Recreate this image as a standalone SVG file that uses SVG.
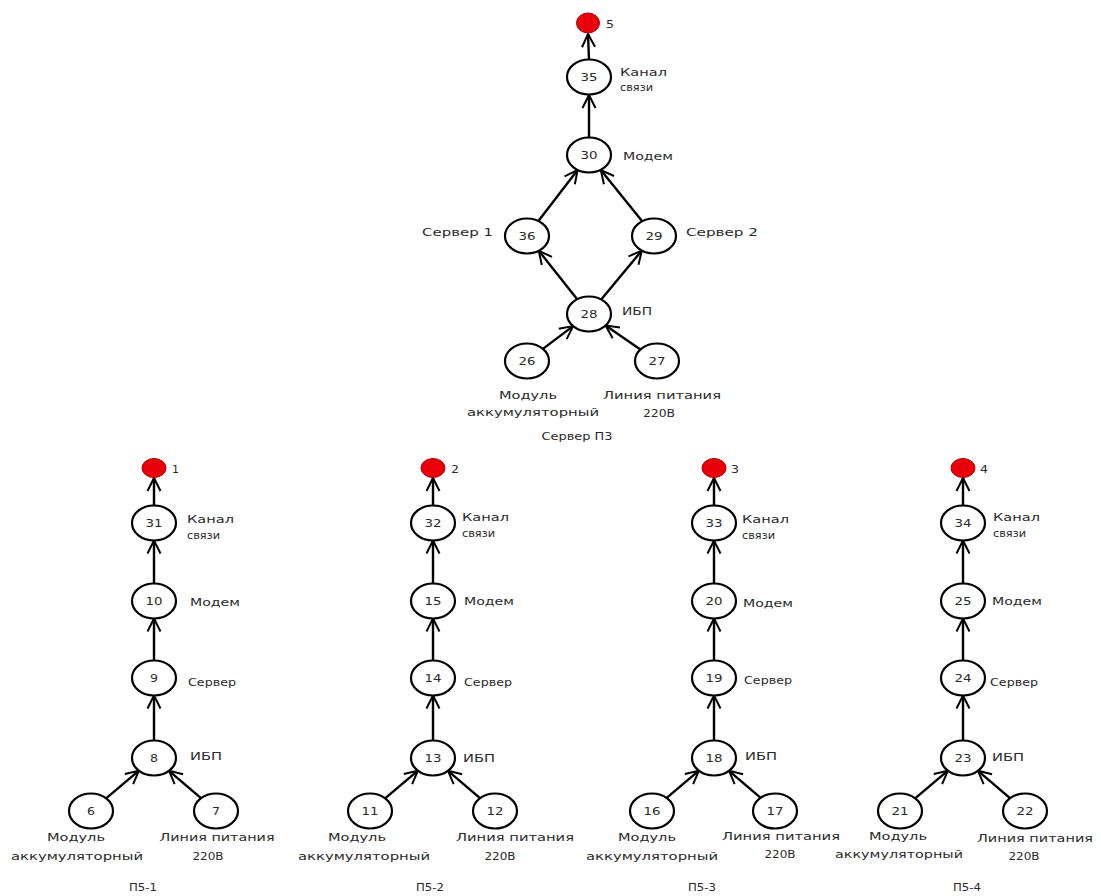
<svg xmlns="http://www.w3.org/2000/svg" width="1101" height="896" viewBox="0 0 1101 896">
<style>
text{font-family:"DejaVu Sans","Liberation Sans",sans-serif;font-size:11px;fill:#2a2a2a}
.n{text-anchor:middle}
.m{text-anchor:middle}
.node{fill:#fff;stroke:#000;stroke-width:2.2}
.root{fill:#e8000b;stroke:#b00000;stroke-width:1}
.edge{stroke:#000;stroke-width:2.4;fill:none;marker-end:url(#arr)}
</style>
<defs>
<marker id="arr" viewBox="0 0 16 16" refX="15" refY="8" markerWidth="16" markerHeight="16" markerUnits="userSpaceOnUse" orient="auto">
<path d="M2,1.5 L15,8 L2,14.5" fill="none" stroke="#000" stroke-width="2"/>
</marker>
</defs>
<rect width="1101" height="896" fill="#fff"/>
<g id="connectors">
<line class="edge" x1="589" y1="59.5" x2="588" y2="34"/>
<line class="edge" x1="589" y1="137.5" x2="589" y2="95"/>
<line class="edge" x1="538.4" y1="221.1" x2="577.6" y2="170"/>
<line class="edge" x1="642.2" y1="221.3" x2="600.8" y2="170"/>
<line class="edge" x1="577.2" y1="299.2" x2="538.8" y2="250.8"/>
<line class="edge" x1="601.2" y1="299.4" x2="641.8" y2="250.6"/>
<line class="edge" x1="542.9" y1="348.9" x2="573.1" y2="326.1"/>
<line class="edge" x1="640.4" y1="349.5" x2="605.6" y2="325.5"/>
<line class="edge" x1="154" y1="505.5" x2="154" y2="478"/>
<line class="edge" x1="154" y1="583.5" x2="154" y2="540.5"/>
<line class="edge" x1="154" y1="660.5" x2="154" y2="618.5"/>
<line class="edge" x1="154" y1="740.5" x2="154" y2="695.5"/>
<line class="edge" x1="106.1" y1="798.3" x2="138.9" y2="770.7"/>
<line class="edge" x1="201" y1="798.2" x2="169" y2="770.8"/>
<line class="edge" x1="433" y1="505.5" x2="433" y2="478"/>
<line class="edge" x1="433" y1="583.5" x2="433" y2="540.5"/>
<line class="edge" x1="433" y1="660.5" x2="433" y2="618.5"/>
<line class="edge" x1="433" y1="740.5" x2="433" y2="695.5"/>
<line class="edge" x1="385.1" y1="798.3" x2="417.9" y2="770.7"/>
<line class="edge" x1="480" y1="798.2" x2="448" y2="770.8"/>
<line class="edge" x1="714" y1="505.5" x2="714" y2="478"/>
<line class="edge" x1="714" y1="583.5" x2="714" y2="540.5"/>
<line class="edge" x1="714" y1="660.5" x2="714" y2="618.5"/>
<line class="edge" x1="714" y1="740.5" x2="714" y2="695.5"/>
<line class="edge" x1="666.1" y1="798.3" x2="698.9" y2="770.7"/>
<line class="edge" x1="761" y1="798.2" x2="729" y2="770.8"/>
<line class="edge" x1="963" y1="505.5" x2="963" y2="478"/>
<line class="edge" x1="963" y1="583.5" x2="963" y2="540.5"/>
<line class="edge" x1="963" y1="660.5" x2="963" y2="618.5"/>
<line class="edge" x1="963" y1="740.5" x2="963" y2="695.5"/>
<line class="edge" x1="915.1" y1="798.3" x2="947.9" y2="770.7"/>
<line class="edge" x1="1010" y1="798.2" x2="978" y2="770.8"/>
</g>
<!-- Top tree: Сервер П3 -->
<g id="n5"><ellipse class="root" cx="588" cy="23" rx="11.5" ry="10"/><text x="606" y="28" textLength="8" lengthAdjust="spacingAndGlyphs">5</text></g>
<g id="n35"><ellipse class="node" cx="589" cy="77" rx="22" ry="17.5"/><text class="n" x="589" y="81" textLength="17" lengthAdjust="spacingAndGlyphs">35</text><text x="620" y="76" textLength="47" lengthAdjust="spacingAndGlyphs">Канал</text><text x="620" y="91" textLength="33" lengthAdjust="spacingAndGlyphs">связи</text></g>
<g id="n30"><ellipse class="node" cx="589" cy="155" rx="22" ry="17.5"/><text class="n" x="589" y="159" textLength="17" lengthAdjust="spacingAndGlyphs">30</text><text x="623" y="160" textLength="50" lengthAdjust="spacingAndGlyphs">Модем</text></g>
<g id="n36"><ellipse class="node" cx="527" cy="236" rx="22" ry="17.5"/><text class="n" x="527" y="240" textLength="17" lengthAdjust="spacingAndGlyphs">36</text><text x="422" y="236" textLength="71" lengthAdjust="spacingAndGlyphs">Сервер 1</text></g>
<g id="n29"><ellipse class="node" cx="654" cy="236" rx="22" ry="17.5"/><text class="n" x="654" y="240" textLength="17" lengthAdjust="spacingAndGlyphs">29</text><text x="686" y="236" textLength="72" lengthAdjust="spacingAndGlyphs">Сервер 2</text></g>
<g id="n28"><ellipse class="node" cx="589" cy="314" rx="22" ry="17.5"/><text class="n" x="589" y="318" textLength="17" lengthAdjust="spacingAndGlyphs">28</text><text x="622" y="315" textLength="30" lengthAdjust="spacingAndGlyphs">ИБП</text></g>
<g id="n26"><ellipse class="node" cx="527" cy="361" rx="22" ry="17.5"/><text class="n" x="527" y="365" textLength="17" lengthAdjust="spacingAndGlyphs">26</text><text class="m" x="528" y="399" textLength="58" lengthAdjust="spacingAndGlyphs">Модуль</text><text class="m" x="533" y="416" textLength="132" lengthAdjust="spacingAndGlyphs">аккумуляторный</text></g>
<g id="n27"><ellipse class="node" cx="657" cy="361" rx="22" ry="17.5"/><text class="n" x="657" y="365" textLength="17" lengthAdjust="spacingAndGlyphs">27</text><text class="m" x="662" y="399" textLength="118" lengthAdjust="spacingAndGlyphs">Линия питания</text><text class="m" x="659" y="417" textLength="32" lengthAdjust="spacingAndGlyphs">220В</text></g>
<text class="m" x="577" y="440" textLength="71" lengthAdjust="spacingAndGlyphs">Сервер П3</text>
<!-- Tree П5-1 -->
<g id="n1"><ellipse class="root" cx="154" cy="468" rx="12" ry="9.5"/><text x="172" y="473" textLength="7" lengthAdjust="spacingAndGlyphs">1</text></g>
<g id="n31"><ellipse class="node" cx="154" cy="523" rx="22" ry="17.5"/><text class="n" x="154" y="527" textLength="17" lengthAdjust="spacingAndGlyphs">31</text><text x="187" y="523" textLength="47" lengthAdjust="spacingAndGlyphs">Канал</text><text x="187" y="539" textLength="33" lengthAdjust="spacingAndGlyphs">связи</text></g>
<g id="n10"><ellipse class="node" cx="154" cy="601" rx="22" ry="17.5"/><text class="n" x="154" y="605" textLength="17" lengthAdjust="spacingAndGlyphs">10</text><text x="190" y="606" textLength="50" lengthAdjust="spacingAndGlyphs">Модем</text></g>
<g id="n9"><ellipse class="node" cx="154" cy="678" rx="22" ry="17.5"/><text class="n" x="154" y="682" textLength="8" lengthAdjust="spacingAndGlyphs">9</text><text x="188" y="686" textLength="48" lengthAdjust="spacingAndGlyphs">Сервер</text></g>
<g id="n8"><ellipse class="node" cx="154" cy="758" rx="22" ry="17.5"/><text class="n" x="154" y="762" textLength="8" lengthAdjust="spacingAndGlyphs">8</text><text x="190" y="760" textLength="32" lengthAdjust="spacingAndGlyphs">ИБП</text></g>
<g id="n6"><ellipse class="node" cx="91" cy="811" rx="22" ry="17.5"/><text class="n" x="91" y="815" textLength="8" lengthAdjust="spacingAndGlyphs">6</text><text class="m" x="76" y="841" textLength="58" lengthAdjust="spacingAndGlyphs">Модуль</text><text class="m" x="77" y="860" textLength="132" lengthAdjust="spacingAndGlyphs">аккумуляторный</text></g>
<g id="n7"><ellipse class="node" cx="216" cy="811" rx="22" ry="17.5"/><text class="n" x="216" y="815" textLength="8" lengthAdjust="spacingAndGlyphs">7</text><text class="m" x="217" y="841" textLength="115" lengthAdjust="spacingAndGlyphs">Линия питания</text><text class="m" x="208" y="860" textLength="31" lengthAdjust="spacingAndGlyphs">220В</text></g>
<text class="m" x="143" y="891" textLength="28" lengthAdjust="spacingAndGlyphs">П5-1</text>
<!-- Tree П5-2 -->
<g id="n2"><ellipse class="root" cx="433" cy="468" rx="12" ry="9.5"/><text x="451" y="473" textLength="8" lengthAdjust="spacingAndGlyphs">2</text></g>
<g id="n32"><ellipse class="node" cx="433" cy="523" rx="22" ry="17.5"/><text class="n" x="433" y="527" textLength="17" lengthAdjust="spacingAndGlyphs">32</text><text x="462" y="521" textLength="47" lengthAdjust="spacingAndGlyphs">Канал</text><text x="462" y="537" textLength="33" lengthAdjust="spacingAndGlyphs">связи</text></g>
<g id="n15"><ellipse class="node" cx="433" cy="601" rx="22" ry="17.5"/><text class="n" x="433" y="605" textLength="17" lengthAdjust="spacingAndGlyphs">15</text><text x="464" y="605" textLength="50" lengthAdjust="spacingAndGlyphs">Модем</text></g>
<g id="n14"><ellipse class="node" cx="433" cy="678" rx="22" ry="17.5"/><text class="n" x="433" y="682" textLength="17" lengthAdjust="spacingAndGlyphs">14</text><text x="464" y="686" textLength="48" lengthAdjust="spacingAndGlyphs">Сервер</text></g>
<g id="n13"><ellipse class="node" cx="433" cy="758" rx="22" ry="17.5"/><text class="n" x="433" y="762" textLength="17" lengthAdjust="spacingAndGlyphs">13</text><text x="463" y="762" textLength="32" lengthAdjust="spacingAndGlyphs">ИБП</text></g>
<g id="n11"><ellipse class="node" cx="370" cy="811" rx="22" ry="17.5"/><text class="n" x="370" y="815" textLength="17" lengthAdjust="spacingAndGlyphs">11</text><text class="m" x="357" y="841" textLength="58" lengthAdjust="spacingAndGlyphs">Модуль</text><text class="m" x="364" y="860" textLength="132" lengthAdjust="spacingAndGlyphs">аккумуляторный</text></g>
<g id="n12"><ellipse class="node" cx="495" cy="811" rx="22" ry="17.5"/><text class="n" x="495" y="815" textLength="17" lengthAdjust="spacingAndGlyphs">12</text><text class="m" x="515" y="841" textLength="118" lengthAdjust="spacingAndGlyphs">Линия питания</text><text class="m" x="500" y="860" textLength="31" lengthAdjust="spacingAndGlyphs">220В</text></g>
<text class="m" x="430" y="891" textLength="28" lengthAdjust="spacingAndGlyphs">П5-2</text>
<!-- Tree П5-3 -->
<g id="n3"><ellipse class="root" cx="714" cy="468" rx="12" ry="9.5"/><text x="731" y="473" textLength="8" lengthAdjust="spacingAndGlyphs">3</text></g>
<g id="n33"><ellipse class="node" cx="714" cy="523" rx="22" ry="17.5"/><text class="n" x="714" y="527" textLength="17" lengthAdjust="spacingAndGlyphs">33</text><text x="742" y="523" textLength="47" lengthAdjust="spacingAndGlyphs">Канал</text><text x="742" y="539" textLength="33" lengthAdjust="spacingAndGlyphs">связи</text></g>
<g id="n20"><ellipse class="node" cx="714" cy="601" rx="22" ry="17.5"/><text class="n" x="714" y="605" textLength="17" lengthAdjust="spacingAndGlyphs">20</text><text x="743" y="607" textLength="50" lengthAdjust="spacingAndGlyphs">Модем</text></g>
<g id="n19"><ellipse class="node" cx="714" cy="678" rx="22" ry="17.5"/><text class="n" x="714" y="682" textLength="17" lengthAdjust="spacingAndGlyphs">19</text><text x="744" y="684" textLength="48" lengthAdjust="spacingAndGlyphs">Сервер</text></g>
<g id="n18"><ellipse class="node" cx="714" cy="758" rx="22" ry="17.5"/><text class="n" x="714" y="762" textLength="17" lengthAdjust="spacingAndGlyphs">18</text><text x="745" y="760" textLength="32" lengthAdjust="spacingAndGlyphs">ИБП</text></g>
<g id="n16"><ellipse class="node" cx="652" cy="811" rx="22" ry="17.5"/><text class="n" x="652" y="815" textLength="17" lengthAdjust="spacingAndGlyphs">16</text><text class="m" x="647" y="841" textLength="58" lengthAdjust="spacingAndGlyphs">Модуль</text><text class="m" x="652" y="860" textLength="132" lengthAdjust="spacingAndGlyphs">аккумуляторный</text></g>
<g id="n17"><ellipse class="node" cx="775" cy="811" rx="22" ry="17.5"/><text class="n" x="775" y="815" textLength="17" lengthAdjust="spacingAndGlyphs">17</text><text class="m" x="781" y="840" textLength="118" lengthAdjust="spacingAndGlyphs">Линия питания</text><text class="m" x="780" y="858" textLength="31" lengthAdjust="spacingAndGlyphs">220В</text></g>
<text class="m" x="702" y="891" textLength="28" lengthAdjust="spacingAndGlyphs">П5-3</text>
<!-- Tree П5-4 -->
<g id="n4"><ellipse class="root" cx="963" cy="468" rx="12" ry="9.5"/><text x="980" y="473" textLength="8" lengthAdjust="spacingAndGlyphs">4</text></g>
<g id="n34"><ellipse class="node" cx="963" cy="523" rx="22" ry="17.5"/><text class="n" x="963" y="527" textLength="17" lengthAdjust="spacingAndGlyphs">34</text><text x="993" y="521" textLength="47" lengthAdjust="spacingAndGlyphs">Канал</text><text x="993" y="537" textLength="33" lengthAdjust="spacingAndGlyphs">связи</text></g>
<g id="n25"><ellipse class="node" cx="963" cy="601" rx="22" ry="17.5"/><text class="n" x="963" y="605" textLength="17" lengthAdjust="spacingAndGlyphs">25</text><text x="992" y="605" textLength="50" lengthAdjust="spacingAndGlyphs">Модем</text></g>
<g id="n24"><ellipse class="node" cx="963" cy="678" rx="22" ry="17.5"/><text class="n" x="963" y="682" textLength="17" lengthAdjust="spacingAndGlyphs">24</text><text x="990" y="686" textLength="48" lengthAdjust="spacingAndGlyphs">Сервер</text></g>
<g id="n23"><ellipse class="node" cx="963" cy="758" rx="22" ry="17.5"/><text class="n" x="963" y="762" textLength="17" lengthAdjust="spacingAndGlyphs">23</text><text x="992" y="761" textLength="32" lengthAdjust="spacingAndGlyphs">ИБП</text></g>
<g id="n21"><ellipse class="node" cx="900" cy="811" rx="22" ry="17.5"/><text class="n" x="900" y="815" textLength="17" lengthAdjust="spacingAndGlyphs">21</text><text class="m" x="898" y="840" textLength="58" lengthAdjust="spacingAndGlyphs">Модуль</text><text class="m" x="899" y="858" textLength="128" lengthAdjust="spacingAndGlyphs">аккумуляторный</text></g>
<g id="n22"><ellipse class="node" cx="1025" cy="811" rx="22" ry="17.5"/><text class="n" x="1025" y="815" textLength="17" lengthAdjust="spacingAndGlyphs">22</text><text class="m" x="1035" y="842" textLength="116" lengthAdjust="spacingAndGlyphs">Линия питания</text><text class="m" x="1024" y="860" textLength="31" lengthAdjust="spacingAndGlyphs">220В</text></g>
<text class="m" x="967" y="891" textLength="28" lengthAdjust="spacingAndGlyphs">П5-4</text>
</svg>
